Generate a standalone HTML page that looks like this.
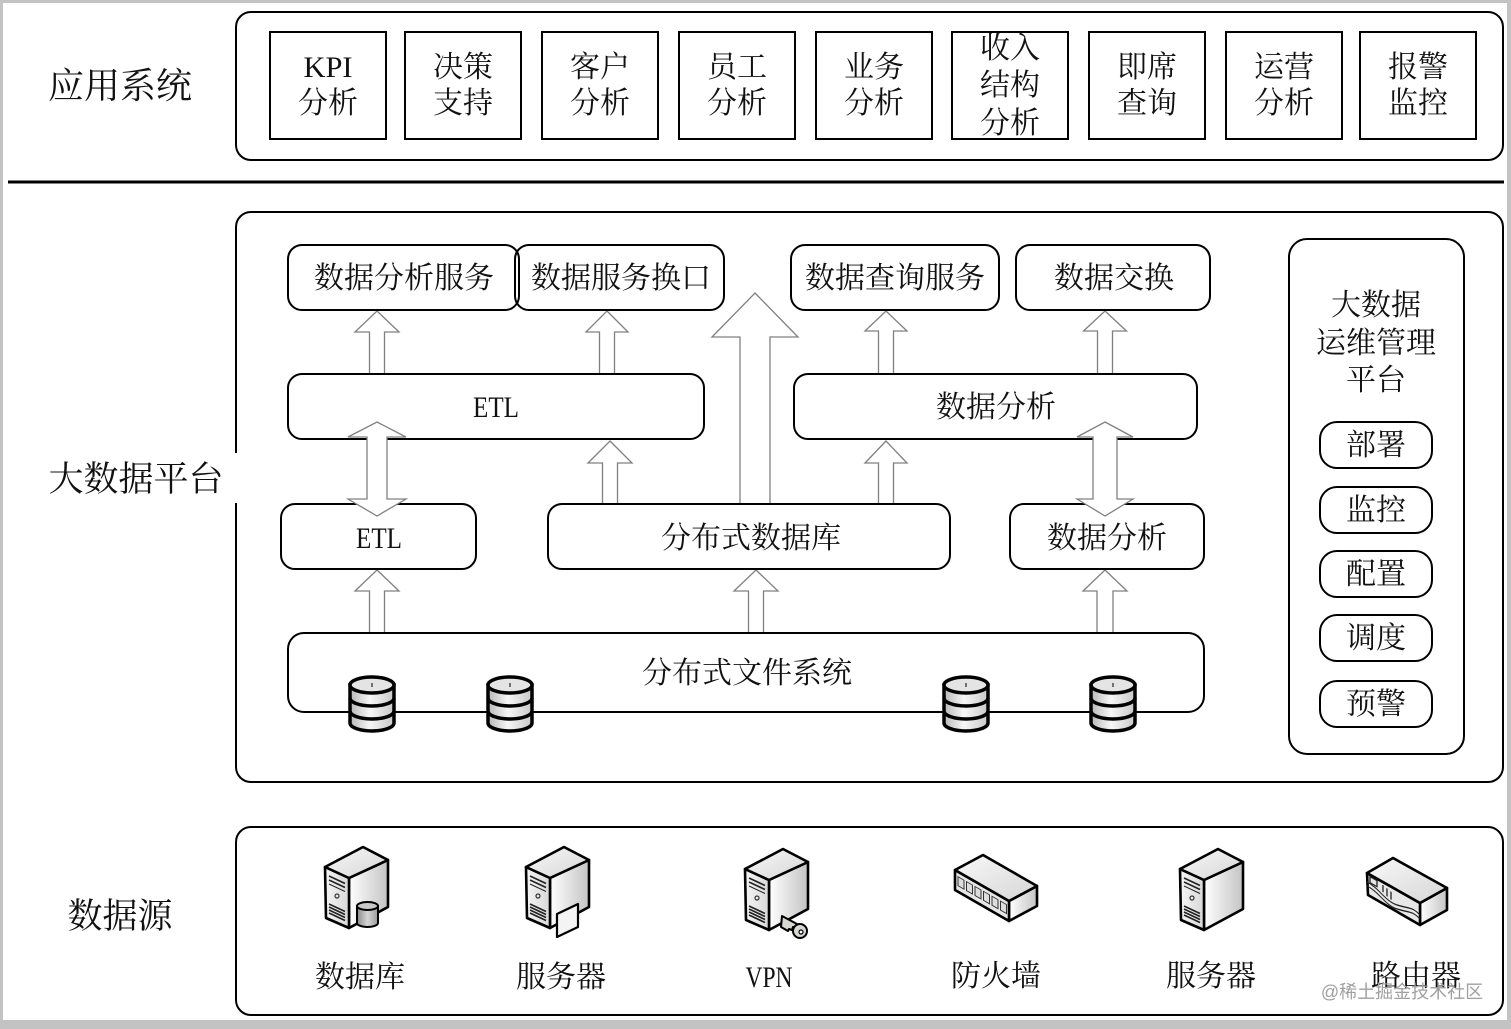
<!DOCTYPE html>
<html><head><meta charset="utf-8"><style>
html,body{margin:0;padding:0;background:#fff;}
svg{display:block;}
.t{font-family:"Liberation Serif","Noto Serif CJK SC",serif;font-size:30px;fill:#111;text-anchor:middle;}
.l{font-family:"Liberation Serif","Noto Serif CJK SC",serif;fill:#111;text-anchor:middle;}
.b{fill:#fff;stroke:#000;stroke-width:2;}
.a{fill:#fff;stroke:#808080;stroke-width:1.3;stroke-linejoin:miter;}
.ic{stroke:#000;stroke-width:2.6;stroke-linejoin:round;}
</style></head><body>
<svg width="1511" height="1029" viewBox="0 0 1511 1029" xmlns="http://www.w3.org/2000/svg">
<defs>
<linearGradient id="gR" x1="0" y1="0" x2="1" y2="0"><stop offset="0" stop-color="#ffffff"/><stop offset="1" stop-color="#c4c4c4"/></linearGradient>
<linearGradient id="gL" x1="0" y1="0" x2="1" y2="0"><stop offset="0" stop-color="#f4f4f4"/><stop offset="1" stop-color="#d8d8d8"/></linearGradient>
<linearGradient id="gT" x1="0" y1="0" x2="1" y2="1"><stop offset="0" stop-color="#f8f8f8"/><stop offset="1" stop-color="#d6d6d6"/></linearGradient>
<linearGradient id="gC" x1="0" y1="0" x2="1" y2="0"><stop offset="0" stop-color="#b8b8b8"/><stop offset="0.45" stop-color="#f6f6f6"/><stop offset="1" stop-color="#c8c8c8"/></linearGradient>
<linearGradient id="gD" x1="0" y1="0" x2="1" y2="0"><stop offset="0" stop-color="#8a8a8a"/><stop offset="0.5" stop-color="#d4d4d4"/><stop offset="1" stop-color="#9a9a9a"/></linearGradient>
<g id="srv">
  <path class="ic" d="M24,31 L63,13 L63,60 L24,81 Z" fill="url(#gR)"/>
  <path class="ic" d="M0,20 L24,31 L24,81 L1,71 Z" fill="url(#gL)"/>
  <path class="ic" d="M0,20 L38,0 L63,13 L24,31 Z" fill="url(#gT)"/>
  <g stroke="#222" stroke-width="1.6" fill="none">
    <path d="M4,29 L20,36.5"/><path d="M4,33 L20,40.5"/><path d="M4,37 L20,44.5" stroke-width="1"/>
    <path d="M4,57 L20,64.5"/><path d="M4,60 L20,67.5"/><path d="M4,63 L20,70.5"/><path d="M4,66 L20,73.5"/>
  </g>
  <circle cx="12" cy="49" r="2" fill="none" stroke="#333" stroke-width="1.2"/>
</g>
<g id="cyl">
  <path d="M-22,8 V46 A22,8 0 0 0 22,46 V8 Z" fill="url(#gC)" stroke="#000" stroke-width="3.5"/>
  <path d="M-22,21 A22,8 0 0 0 22,21 M-22,34 A22,8 0 0 0 22,34" fill="none" stroke="#000" stroke-width="3.5"/>
  <ellipse cx="0" cy="8" rx="22" ry="8" fill="#e4e4e4" stroke="#000" stroke-width="3.5"/>
  <path d="M0,6 V10" stroke="#000" stroke-width="1"/>
</g>
</defs>

<rect width="1511" height="1029" fill="#c3c3c3"/>
<rect x="3" y="3" width="1504" height="1017" fill="#fff"/>

<!-- panels -->
<rect class="b" x="236" y="12" width="1267" height="148" rx="15"/>
<rect class="b" x="236" y="212" width="1267" height="570" rx="15"/>
<rect class="b" x="236" y="827" width="1267" height="188" rx="15"/>
<rect x="230" y="453" width="12" height="50" fill="#fff"/>
<line x1="8" y1="182" x2="1504" y2="182" stroke="#000" stroke-width="3"/>

<!-- left labels -->
<text class="l" x="120" y="98" style="font-size:36px">应用系统</text>
<text class="l" x="136" y="491" style="font-size:35px">大数据平台</text>
<text class="l" x="120" y="928" style="font-size:35px">数据源</text>

<!-- app boxes -->
<g fill="#fff" stroke="#000" stroke-width="2">
<rect x="270" y="32" width="116" height="107"/>
<rect x="405" y="32" width="116" height="107"/>
<rect x="542" y="32" width="116" height="107"/>
<rect x="679" y="32" width="116" height="107"/>
<rect x="816" y="32" width="116" height="107"/>
<rect x="952" y="32" width="116" height="107"/>
<rect x="1089" y="32" width="116" height="107"/>
<rect x="1226" y="32" width="116" height="107"/>
<rect x="1360" y="32" width="116" height="107"/>
</g>
<text class="t" x="328" y="77" textLength="49" lengthAdjust="spacingAndGlyphs">KPI</text><text class="t" x="328" y="113">分析</text>
<text class="t" x="463" y="77">决策</text><text class="t" x="463" y="113">支持</text>
<text class="t" x="600" y="77">客户</text><text class="t" x="600" y="113">分析</text>
<text class="t" x="737" y="77">员工</text><text class="t" x="737" y="113">分析</text>
<text class="t" x="874" y="77">业务</text><text class="t" x="874" y="113">分析</text>
<text class="t" x="1010" y="58">收入</text><text class="t" x="1010" y="95">结构</text><text class="t" x="1010" y="133">分析</text>
<text class="t" x="1147" y="77">即席</text><text class="t" x="1147" y="113">查询</text>
<text class="t" x="1284" y="77">运营</text><text class="t" x="1284" y="113">分析</text>
<text class="t" x="1418" y="77">报警</text><text class="t" x="1418" y="113">监控</text>

<!-- single arrows -->
<polygon class="a" points="377,311 399,332 384.5,332 384.5,374 369.5,374 369.5,332 355,332"/>
<polygon class="a" points="607,311 628,332 614.5,332 614.5,374 599.5,374 599.5,332 586,332"/>
<polygon class="a" points="755,293 798,337 770,337 770,504 740,504 740,337 712,337"/>
<polygon class="a" points="610,441 632,463 617.5,463 617.5,504 602.5,504 602.5,463 588,463"/>
<polygon class="a" points="886,311 907,331 893.5,331 893.5,374 878.5,374 878.5,331 865,331"/>
<polygon class="a" points="1105,311 1126.5,331 1112.5,331 1112.5,374 1097.5,374 1097.5,331 1083.5,331"/>
<polygon class="a" points="886,441 907,463 893.5,463 893.5,504 878.5,504 878.5,463 865,463"/>
<polygon class="a" points="377,570 399,591 384.5,591 384.5,633 369.5,633 369.5,591 355,591"/>
<polygon class="a" points="756,570 778,591 763.5,591 763.5,633 748.5,633 748.5,591 734,591"/>
<polygon class="a" points="1105,570 1127,591 1113,591 1113,633 1097,633 1097,591 1083,591"/>

<!-- platform boxes -->
<rect class="b" x="288" y="245" width="231" height="65" rx="14"/>
<rect x="515" y="245" width="209" height="65" rx="14" fill="none" stroke="#000" stroke-width="2"/>
<rect class="b" x="791" y="245" width="208" height="65" rx="14"/>
<rect class="b" x="1016" y="245" width="194" height="65" rx="14"/>
<rect class="b" x="288" y="374" width="416" height="65" rx="14"/>
<rect class="b" x="794" y="374" width="403" height="65" rx="14"/>
<rect class="b" x="281" y="504" width="195" height="65" rx="14"/>
<rect class="b" x="548" y="504" width="402" height="65" rx="14"/>
<rect class="b" x="1010" y="504" width="194" height="65" rx="14"/>
<rect class="b" x="288" y="633" width="916" height="79" rx="16"/>

<text class="t" x="404" y="288">数据分析服务</text>
<text class="t" x="621" y="288">数据服务换口</text>
<text class="t" x="895" y="288">数据查询服务</text>
<text class="t" x="1114" y="288">数据交换</text>
<text class="t" x="496" y="417" textLength="46" lengthAdjust="spacingAndGlyphs">ETL</text>
<text class="t" x="996" y="417">数据分析</text>
<text class="t" x="379" y="548" textLength="46" lengthAdjust="spacingAndGlyphs">ETL</text>
<text class="t" x="751" y="548">分布式数据库</text>
<text class="t" x="1107" y="548">数据分析</text>
<text class="t" x="747" y="683">分布式文件系统</text>

<!-- double arrows -->
<polygon class="a" points="377,422 406,437 387,437 387,499 406,499 377,516 348,499 367,499 367,437 348,437"/>
<polygon class="a" points="1105,422 1133,437 1117,437 1117,499 1133,499 1105,516 1077,499 1093,499 1093,437 1077,437"/>

<!-- db cylinders -->
<use href="#cyl" x="372" y="677"/>
<use href="#cyl" x="510" y="677"/>
<use href="#cyl" x="966" y="677"/>
<use href="#cyl" x="1113" y="677"/>

<!-- right panel -->
<rect class="b" x="1289" y="239" width="175" height="515" rx="18"/>
<text class="t" x="1376" y="315">大数据</text>
<text class="t" x="1376" y="353">运维管理</text>
<text class="t" x="1376" y="390">平台</text>
<rect class="b" x="1320" y="422" width="112" height="46" rx="17"/>
<rect class="b" x="1320" y="487" width="112" height="46" rx="17"/>
<rect class="b" x="1320" y="551" width="112" height="46" rx="17"/>
<rect class="b" x="1320" y="615" width="112" height="46" rx="17"/>
<rect class="b" x="1320" y="681" width="112" height="46" rx="17"/>
<text class="t" x="1376" y="455">部署</text>
<text class="t" x="1376" y="520">监控</text>
<text class="t" x="1376" y="584">配置</text>
<text class="t" x="1376" y="648">调度</text>
<text class="t" x="1376" y="714">预警</text>

<!-- data source icons -->
<use href="#srv" x="325" y="847"/>
<g>
  <path d="M357,906 V923 A10.5,4 0 0 0 378,923 V906 Z" fill="url(#gD)" stroke="#000" stroke-width="2"/>
  <ellipse cx="367.5" cy="906" rx="10.5" ry="4" fill="#c8c8c8" stroke="#000" stroke-width="2"/>
</g>
<use href="#srv" x="526" y="847"/>
<path d="M557,914 L578,904 L578,927 L557,937 Z" fill="#f4f4f4" stroke="#000" stroke-width="2.2" stroke-linejoin="round"/>
<use href="#srv" x="745" y="849"/>
<g stroke="#000" stroke-width="2" stroke-linejoin="round">
  <path d="M782,916 L797,924 L796,928 L793,927 L792,930 L789,929 L788,931 L781,927 Z" fill="#d8d8d0"/>
  <circle cx="800" cy="931" r="7" fill="#d8d8d0"/>
  <circle cx="801" cy="932" r="2" fill="#fff" stroke-width="1.2"/>
</g>

<!-- firewall -->
<g>
  <path class="ic" d="M1009,901 L1037,886 L1037,906 L1009,921 Z" fill="url(#gR)"/>
  <path class="ic" d="M955,870 L1009,901 L1009,921 L955,890 Z" fill="#e6e6e6"/>
  <path class="ic" d="M955,870 L983,855 L1037,886 L1009,901 Z" fill="url(#gT)"/>
  <g transform="matrix(1,0.574,0,1,955,870)" fill="#ddd" stroke="#333" stroke-width="1">
    <rect x="3" y="5" width="6" height="9"/><rect x="11.5" y="5" width="6" height="9"/><rect x="20" y="5" width="6" height="9"/>
    <rect x="28.5" y="5" width="6" height="9"/><rect x="37" y="5" width="6" height="9"/><rect x="45.5" y="5" width="6" height="9"/>
  </g>
</g>

<use href="#srv" x="1180" y="849"/>

<!-- router -->
<g>
  <path class="ic" d="M1420,903 L1447,888 L1447,910 L1420,925 Z" fill="url(#gR)"/>
  <path class="ic" d="M1367,873 L1420,903 L1420,925 L1368,895 Z" fill="#e8e8e8"/>
  <path class="ic" d="M1367,873 L1393,858 L1447,888 L1420,903 Z" fill="url(#gT)"/>
  <g transform="matrix(1,0.566,0,1,1367,873)" fill="none" stroke="#222" stroke-width="1.3">
    <path d="M0,9 C12,8 18,18 30,15 S45,8 53,12"/>
    <path d="M0,13 C12,12 18,22 30,19 S45,12 53,16"/>
    <rect x="3" y="2" width="7" height="6"/>
    <path d="M16,3 V10 M20,4 V12 M24,5 V13"/>
  </g>
</g>

<!-- data source labels -->
<text class="t" x="360" y="987">数据库</text>
<text class="t" x="561" y="987">服务器</text>
<text class="t" x="769" y="987" textLength="47" lengthAdjust="spacingAndGlyphs">VPN</text>
<text class="t" x="996" y="986">防火墙</text>
<text class="t" x="1211" y="986">服务器</text>
<text class="t" x="1416" y="986">路由器</text>
<text x="1402" y="998" style="font-family:'Liberation Sans','Noto Sans CJK SC',sans-serif;font-size:18px;fill:#a0a0a0;text-anchor:middle">@稀土掘金技术社区</text>
</svg>
</body></html>
